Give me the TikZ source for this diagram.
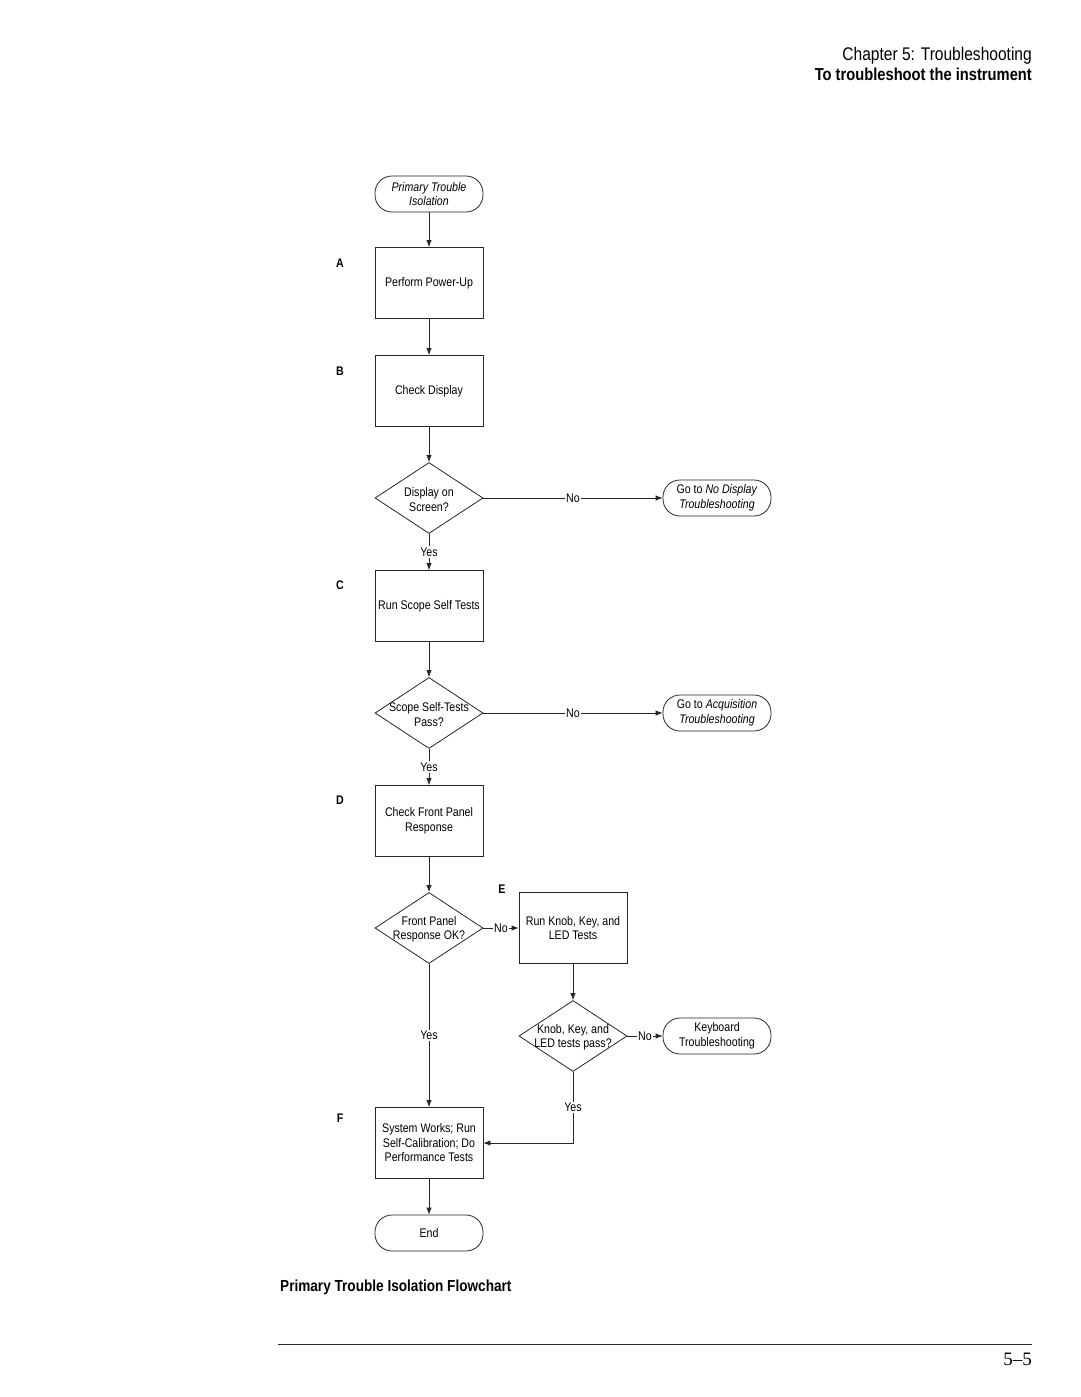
\documentclass[tikz,border=0pt]{standalone}
\usepackage{fontspec}
\setmainfont{Liberation Sans}[FakeStretch=0.85]
\newfontfamily\pageserif{Liberation Serif}
\usetikzlibrary{shapes.geometric,arrows.meta}
\newcommand\dgfont{\fontsize{12.5}{14.5}\selectfont}
\tikzset{
  base/.style={draw=black!85, line width=0.8pt, font=\dgfont, align=center},
  proc/.style={base, rectangle, minimum width=108pt, minimum height=71pt, inner sep=0pt},
  term/.style={base, rectangle, rounded corners=17pt, minimum width=108pt, minimum height=36pt, inner sep=0pt},
  dec/.style={base, diamond, minimum width=108pt, minimum height=71pt, inner sep=0pt},
  dlabel/.style={label={[font=\dgfont, align=center, yshift=-1.5pt]center:#1}},
  flow/.style={draw=black!85, line width=0.8pt, -{Latex[length=7pt,width=5.5pt]}},
  lbl/.style={fill=white, font=\dgfont, inner sep=1.5pt},
  tag/.style={font=\dgfont\bfseries}
}
\begin{document}
\begin{tikzpicture}[x=1pt,y=-1pt]
\useasboundingbox (0,0) rectangle (1080,1397);

% header
\node[anchor=base east, inner sep=0pt, font=\fontsize{18.3}{20}\selectfont] (h1) at (1032,60) {Chapter 5: Troubleshooting};
\node[anchor=base east, inner sep=0pt, font=\fontsize{17.3}{20}\selectfont\bfseries] (h2) at (1032,81) {To troubleshoot the instrument};

% nodes
\node[term] (s) at (429,194) {\textit{Primary Trouble}\\\textit{Isolation}};
\node[proc] (A) at (429,283) {Perform Power-Up};
\node[proc] (B) at (429,391) {Check Display};
\node[dec, dlabel={Display on\\Screen?}] (d1) at (429,498) {};
\node[term] (t1) at (717,498) {Go to \textit{No Display}\\\textit{Troubleshooting}};
\node[proc] (C) at (429,606) {Run Scope Self Tests};
\node[dec, dlabel={Scope Self-Tests\\Pass?}] (d2) at (429,713) {};
\node[term] (t2) at (717,713) {Go to \textit{Acquisition}\\\textit{Troubleshooting}};
\node[proc] (D) at (429,821) {Check Front Panel\\Response};
\node[dec, dlabel={Front Panel\\Response OK?}] (d3) at (429,928) {};
\node[proc] (E) at (573,928) {Run Knob, Key, and\\LED Tests};
\node[dec, dlabel={Knob, Key, and\\LED tests pass?}] (d4) at (573,1036) {};
\node[term] (t3) at (717,1036) {Keyboard\\Troubleshooting};
\node[proc] (F) at (429,1143) {System Works; Run\\Self-Calibration; Do\\Performance Tests};
\node[term] (end) at (429,1233) {End};

% step letters
\node[tag] (la) at (340,263) {A};
\node[tag] (lb) at (340,371) {B};
\node[tag] (lc) at (340,585) {C};
\node[tag] (ld) at (340,800) {D};
\node[tag] (le) at (502,889) {E};
\node[tag] (lf) at (340,1118) {F};

% connectors
\draw[flow] (s) -- (A);
\draw[flow] (A) -- (B);
\draw[flow] (B) -- (d1);
\draw[flow] (d1) -- node[lbl]{Yes} (C);
\draw[flow] (d1) -- node[lbl]{No} (t1);
\draw[flow] (C) -- (d2);
\draw[flow] (d2) -- node[lbl]{Yes} (D);
\draw[flow] (d2) -- node[lbl]{No} (t2);
\draw[flow] (D) -- (d3);
\draw[flow] (d3) -- node[lbl]{No} (E);
\draw[flow] (d3) -- node[lbl]{Yes} (F);
\draw[flow] (E) -- (d4);
\draw[flow] (d4) -- node[lbl]{No} (t3);
\draw[flow] (d4) |- node[lbl, pos=0.25]{Yes} (F);
\draw[flow] (F) -- (end);

% caption and footer
\node[anchor=base west, inner sep=0pt, font=\fontsize{16}{18}\selectfont\bfseries] (cap) at (280,1291) {Primary Trouble Isolation Flowchart};
\coordinate (r1) at (278,1344);
\coordinate (r2) at (1032,1344);
\draw[line width=0.9pt, black!85] (r1) -- (r2);
\node[anchor=base east, inner sep=0pt, font=\pageserif\fontsize{19}{20}\selectfont] (pg) at (1032,1365) {5–5};
\end{tikzpicture}
\end{document}
